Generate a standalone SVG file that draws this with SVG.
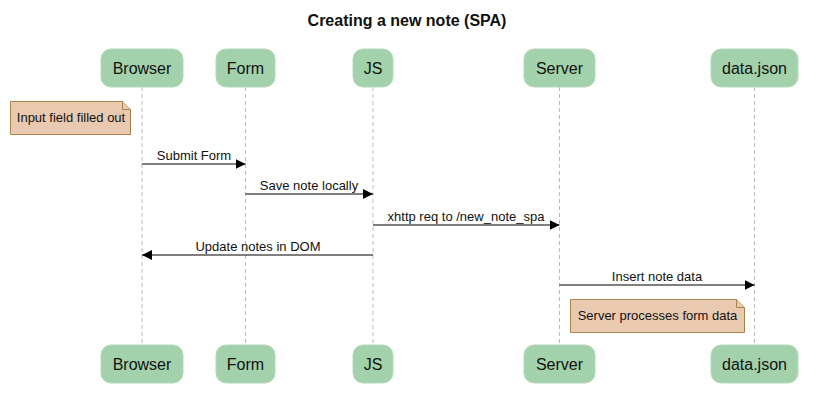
<svg xmlns="http://www.w3.org/2000/svg" width="813" height="408" viewBox="0 0 813 408">
<style>
text{font-family:"Liberation Sans",Arial,sans-serif;fill:#111}
.title{font-size:16px;font-weight:bold;text-anchor:middle}
.actor rect{fill:#a3d1ab;stroke:#b5dabb;stroke-width:1}
.actor text{font-size:16px;text-anchor:middle}
.life{stroke:#bbbbbb;stroke-width:1;stroke-dasharray:4,3;fill:none}
.msg line{stroke:#000;stroke-width:1.2}
.msg text{font-size:13px;text-anchor:middle}
.note path{fill:#e9cab0;stroke:#a8844d;stroke-width:1}
.note text{font-size:13px;text-anchor:middle}
</style>
<defs>
<marker id="arr" markerUnits="userSpaceOnUse" markerWidth="10" markerHeight="10" refX="10" refY="5" orient="auto">
<path d="M0,0 L10,5 L0,10 z" fill="#000"/>
</marker>
</defs>
<rect width="813" height="408" fill="#fff"/>
<text class="title" x="407" y="26">Creating a new note (SPA)</text>

<g id="lifelines">
<line class="life" x1="142" y1="87" x2="142" y2="345"/>
<line class="life" x1="245.5" y1="87" x2="245.5" y2="345"/>
<line class="life" x1="373" y1="87" x2="373" y2="345"/>
<line class="life" x1="559.5" y1="87" x2="559.5" y2="345"/>
<line class="life" x1="754.5" y1="87" x2="754.5" y2="345"/>
</g>

<g id="browser" class="actor">
<rect x="101" y="49" width="82" height="38" rx="10"/><text x="142" y="73.5">Browser</text>
<rect x="101" y="345" width="82" height="38" rx="10"/><text x="142" y="369.5">Browser</text>
</g>
<g id="form" class="actor">
<rect x="216" y="49" width="59" height="38" rx="10"/><text x="245.5" y="73.5">Form</text>
<rect x="216" y="345" width="59" height="38" rx="10"/><text x="245.5" y="369.5">Form</text>
</g>
<g id="js" class="actor">
<rect x="353" y="49" width="40" height="38" rx="10"/><text x="373" y="73.5">JS</text>
<rect x="353" y="345" width="40" height="38" rx="10"/><text x="373" y="369.5">JS</text>
</g>
<g id="server" class="actor">
<rect x="524" y="49" width="71" height="38" rx="10"/><text x="559.5" y="73.5">Server</text>
<rect x="524" y="345" width="71" height="38" rx="10"/><text x="559.5" y="369.5">Server</text>
</g>
<g id="datajson" class="actor">
<rect x="711" y="49" width="87" height="38" rx="10"/><text x="754.5" y="73.5">data.json</text>
<rect x="711" y="345" width="87" height="38" rx="10"/><text x="754.5" y="369.5">data.json</text>
</g>

<g id="note1" class="note">
<path d="M10.5,101.5 H122.5 L130.5,109.5 V134.5 H10.5 Z"/>
<path d="M122.5,101.5 V109.5 H130.5" fill="#d9b898"/>
<text x="71" y="122">Input field filled out</text>
</g>
<g id="note2" class="note">
<path d="M570.5,299.5 H736.5 L744.5,307.5 V332.5 H570.5 Z"/>
<path d="M736.5,299.5 V307.5 H744.5" fill="#d9b898"/>
<text x="657.5" y="320">Server processes form data</text>
</g>

<g id="connectors" class="msg">
<line x1="142" y1="164" x2="245.5" y2="164" marker-end="url(#arr)"/>
<text x="194" y="160">Submit Form</text>
<line x1="245.5" y1="194" x2="373" y2="194" marker-end="url(#arr)"/>
<text x="309" y="190">Save note locally</text>
<line x1="373" y1="225" x2="559.5" y2="225" marker-end="url(#arr)"/>
<text x="466" y="221">xhttp req to /new_note_spa</text>
<line x1="373" y1="255" x2="142" y2="255" marker-end="url(#arr)"/>
<text x="258" y="251">Update notes in DOM</text>
<line x1="559.5" y1="285" x2="754.5" y2="285" marker-end="url(#arr)"/>
<text x="657" y="281">Insert note data</text>
</g>
</svg>
